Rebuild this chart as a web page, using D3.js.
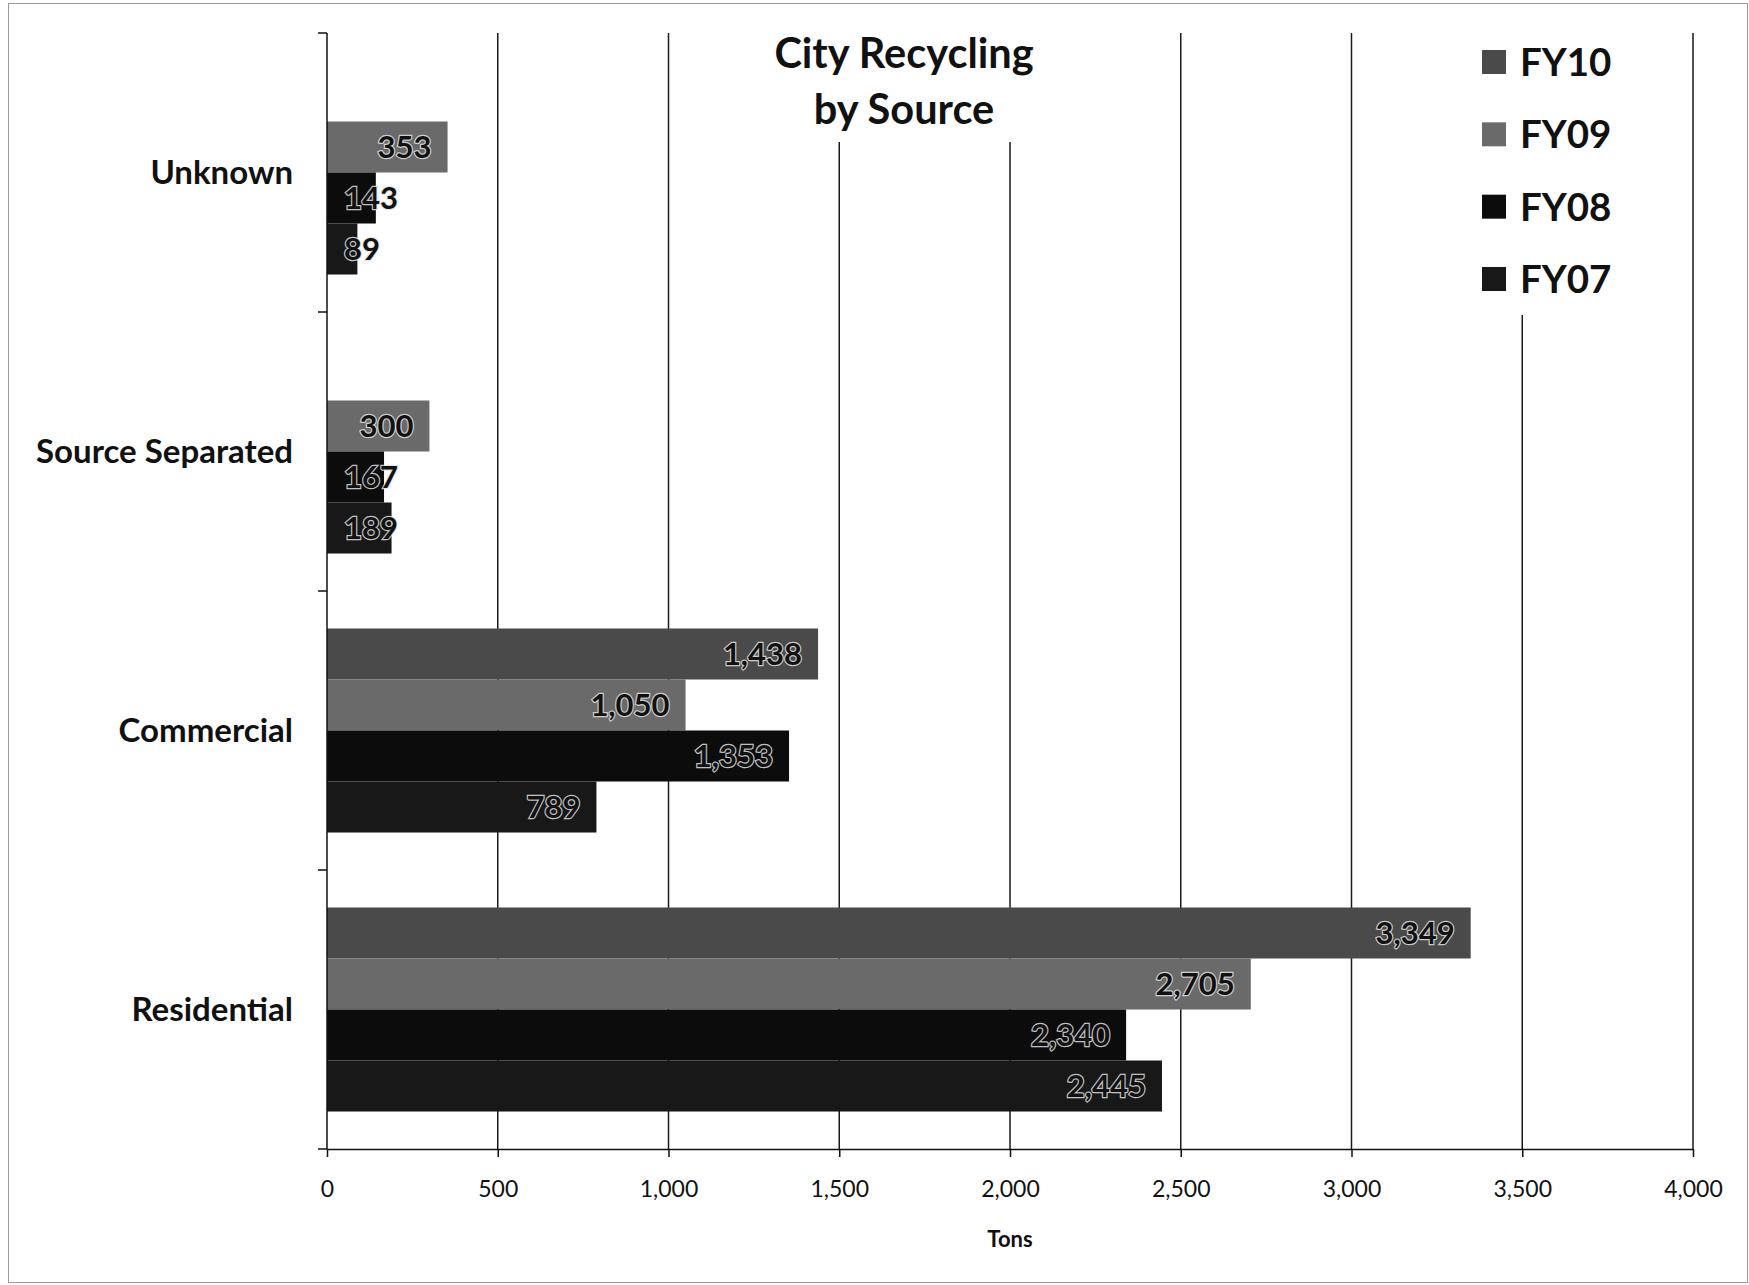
<!DOCTYPE html>
<html>
<head>
<meta charset="utf-8">
<script src="https://cdn.jsdelivr.net/npm/d3@7"></script>
<style>
  html, body { margin: 0; padding: 0; background: #fff; }
  svg { display: block; }
  text { font-family: Lato, "Open Sans", sans-serif; }
</style>
</head>
<body>
<svg id="chart" width="1749" height="1285"></svg>
<script>
// ---- data ----
const categories = ["Unknown", "Source Separated", "Commercial", "Residential"];
const seriesNames = ["FY10", "FY09", "FY08", "FY07"];
const fy10 = [null, null, 1438, 3349];
const fy09 = [353, 300, 1050, 2705];
const fy08 = [143, 167, 1353, 2340];
const fy07 = [89, 189, 789, 2445];
const xTicks = [0, 500, 1000, 1500, 2000, 2500, 3000, 3500, 4000];
const titleLines = ["City Recycling", "by Source"];
const xAxisTitle = "Tons";

const seriesValues = { FY10: fy10, FY09: fy09, FY08: fy08, FY07: fy07 };
const colors = { FY10: "#4a4a4a", FY09: "#6a6a6a", FY08: "#0c0c0c", FY07: "#181818" };

const svg = d3.select("#chart");

// frame
svg.append("rect").attr("x", 8.5).attr("y", 3.5).attr("width", 1739).attr("height", 1279)
  .attr("fill", "none").attr("stroke", "#9a9a9a").attr("stroke-width", 1);

const plot = { left: 327, right: 1693, top: 33, bottom: 1149 };

const x = d3.scaleLinear().domain([0, 4000]).range([plot.left, plot.right]);
const y = d3.scaleBand().domain(categories).range([plot.top, plot.bottom]);
const y1 = d3.scaleBand().domain(seriesNames).range([0, y.bandwidth()]).paddingOuter(0.735);

// gridlines
svg.append("g").selectAll("line").data(xTicks.filter(d => d > 0)).join("line")
  .attr("x1", d => x(d)).attr("x2", d => x(d))
  .attr("y1", plot.top).attr("y2", plot.bottom)
  .attr("stroke", "#1a1a1a").attr("stroke-width", 1.5);

// title & legend backgrounds (mask gridlines)
svg.append("rect").attr("x", 690).attr("y", plot.top - 2).attr("width", 470).attr("height", 111).attr("fill", "#fff");
svg.append("rect").attr("x", 1468).attr("y", plot.top - 2).attr("width", 170).attr("height", 284).attr("fill", "#fff");

// bars
const rows = [];
categories.forEach((c, i) => {
  seriesNames.forEach(s => {
    const v = seriesValues[s][i];
    if (v != null) rows.push({ cat: c, series: s, value: v });
  });
});

svg.append("g").selectAll("rect").data(rows).join("rect")
  .attr("x", x(0))
  .attr("y", d => y(d.cat) + y1(d.series))
  .attr("width", d => x(d.value) - x(0))
  .attr("height", y1.bandwidth())
  .attr("fill", d => colors[d.series]);

// data labels
const fmt = d3.format(",");
const labels = svg.append("g").selectAll("text").data(rows).join("text")
  .attr("y", d => y(d.cat) + y1(d.series) + y1.bandwidth() / 2)
  .attr("dy", "0.36em")
  .attr("text-anchor", "end")
  .attr("font-size", 31)
  .attr("font-weight", 700)
  .attr("fill", "#111")
  .attr("stroke", "rgba(225,225,225,0.85)")
  .attr("stroke-width", 2.4)
  .attr("paint-order", "stroke")
  .text(d => fmt(d.value));
labels.each(function(d) {
  const w = this.getComputedTextLength();
  const xe = Math.max(x(d.value) - 16, x(0) + 17 + w);
  d3.select(this).attr("x", xe);
});

// y axis line and ticks at band boundaries
const yBounds = categories.map(c => y(c)).concat([plot.bottom]);
svg.append("line").attr("x1", plot.left).attr("x2", plot.left)
  .attr("y1", plot.top).attr("y2", plot.bottom).attr("stroke", "#111").attr("stroke-width", 1.5);
svg.append("g").selectAll("line").data(yBounds).join("line")
  .attr("x1", plot.left - 9).attr("x2", plot.left)
  .attr("y1", d => d).attr("y2", d => d)
  .attr("stroke", "#111").attr("stroke-width", 1.5);

// category labels
svg.append("g").selectAll("text").data(categories).join("text")
  .attr("x", 293)
  .attr("y", d => y(d) + y.bandwidth() / 2)
  .attr("dy", "0.36em")
  .attr("text-anchor", "end")
  .attr("font-size", 33)
  .attr("font-weight", 700)
  .attr("fill", "#111")
  .text(d => d);

// x axis
const xAxis = d3.axisBottom(x).tickValues(xTicks).tickFormat(fmt).tickSize(8).tickPadding(24).tickSizeOuter(0);
const gx = svg.append("g").attr("transform", `translate(0,${plot.bottom})`).call(xAxis);
gx.select(".domain").attr("stroke", "#111").attr("stroke-width", 1.5);
gx.selectAll(".tick line").attr("stroke", "#111").attr("stroke-width", 1.5);
gx.selectAll(".tick text").attr("font-size", 23).attr("fill", "#111")
  .attr("font-family", "Lato, 'Open Sans', sans-serif");

// x axis title
svg.append("text").attr("x", (plot.left + plot.right) / 2).attr("y", 1239)
  .attr("dy", "0.36em").attr("text-anchor", "middle")
  .attr("font-size", 22).attr("font-weight", 700).attr("fill", "#111")
  .text(xAxisTitle);

// chart title
svg.append("g").selectAll("text").data(titleLines).join("text")
  .attr("x", 904)
  .attr("y", (d, i) => 68 + i * 56)
  .attr("text-anchor", "middle")
  .attr("font-size", 41.5)
  .attr("font-weight", 700)
  .attr("fill", "#111")
  .text(d => d);

// legend
const legendY = d3.scalePoint().domain(seriesNames).range([62, 279]);
const gl = svg.append("g");
gl.selectAll("rect").data(seriesNames).join("rect")
  .attr("x", 1482).attr("y", d => legendY(d) - 12)
  .attr("width", 24).attr("height", 24)
  .attr("fill", d => colors[d]);
gl.selectAll("text").data(seriesNames).join("text")
  .attr("x", 1520).attr("y", d => legendY(d))
  .attr("dy", "0.36em")
  .attr("font-size", 38.5).attr("font-weight", 700).attr("fill", "#111")
  .text(d => d);
</script>
</body>
</html>
